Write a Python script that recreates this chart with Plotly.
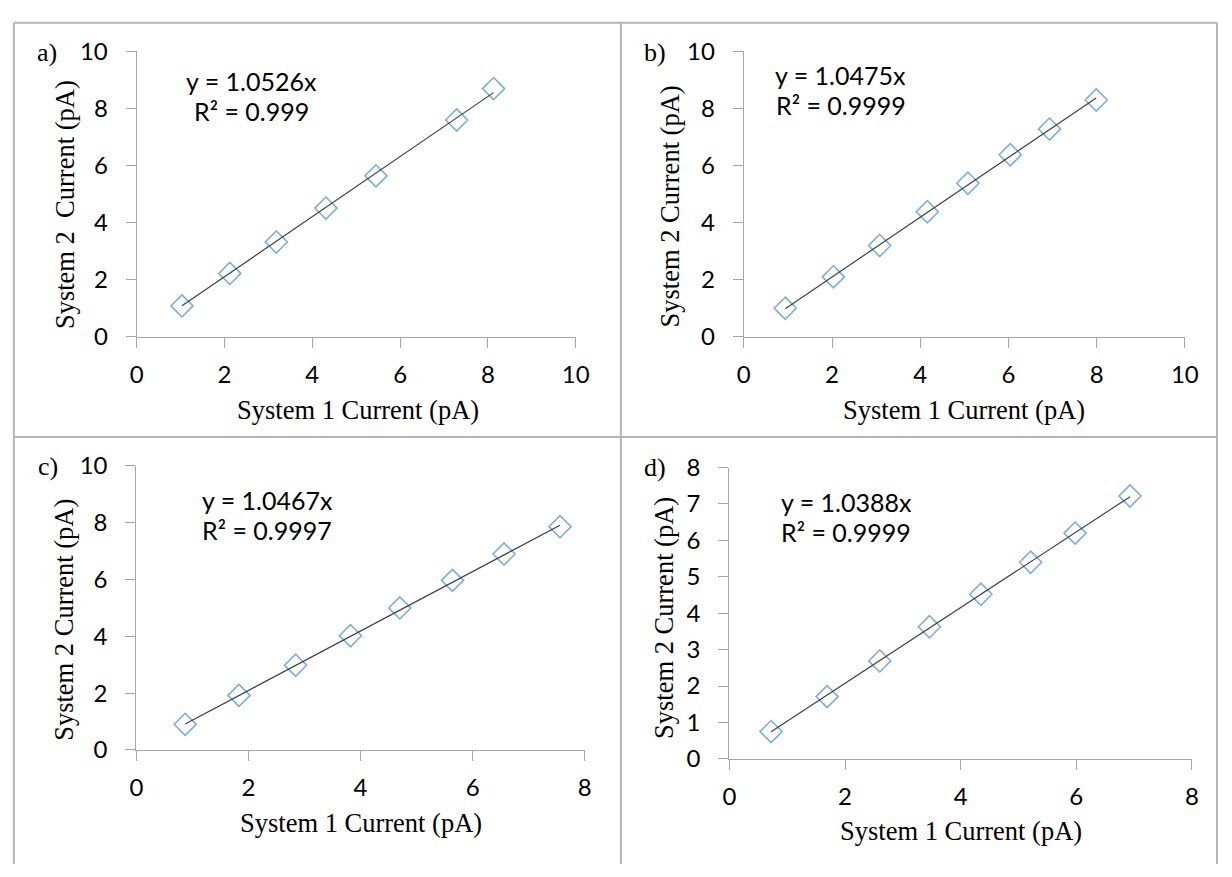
import plotly.graph_objects as go

W, H = 1232, 877

# ---------------- data ----------------
panel_labels = ["a)", "b)", "c)", "d)"]

x_a = [1.03, 2.12, 3.18, 4.31, 5.45, 7.29, 8.13]
y_a = [1.08, 2.22, 3.32, 4.51, 5.64, 7.60, 8.70]

x_b = [0.94, 2.03, 3.08, 4.16, 5.08, 6.04, 6.93, 7.99]
y_b = [1.00, 2.10, 3.20, 4.38, 5.38, 6.38, 7.28, 8.30]

x_c = [0.87, 1.83, 2.84, 3.82, 4.70, 5.64, 6.56, 7.56]
y_c = [0.90, 1.92, 2.98, 4.02, 5.00, 5.97, 6.90, 7.86]

x_d = [0.72, 1.69, 2.60, 3.46, 4.35, 5.21, 5.98, 6.93]
y_d = [0.75, 1.71, 2.69, 3.63, 4.52, 5.40, 6.20, 7.22]

slopes = [1.0526, 1.0475, 1.0467, 1.0388]
r2_text = ["0.999", "0.9999", "0.9997", "0.9999"]

x_ranges = [[0, 10], [0, 10], [0, 8], [0, 8]]
y_ranges = [[0, 10], [0, 10], [0, 10], [0, 8]]
x_dticks = [2, 2, 2, 2]
y_dticks = [2, 2, 2, 1]

x_title = "System 1 Current (pA)"
y_titles = ["System 2  Current (pA)", "System 2 Current (pA)",
            "System 2 Current (pA)", "System 2 Current (pA)"]

xs = [x_a, x_b, x_c, x_d]
ys = [y_a, y_b, y_c, y_d]

# ---------------- layout geometry (pixels) ----------------
# plot areas: (left, right, top, bottom)
areas = [
    (132.0, 578.5, 36.7, 331.7),
    (749.6, 1198.3, 36.7, 331.7),
    (131.7, 587.7, 465.3, 759.0),
    (735.0, 1205.4, 467.0, 768.3),
]
label_pos = [(41, 38), (659, 38), (42, 466), (659, 467)]
eq_pos = [(249, 67, 98), (848, 61, 92), (265, 501, 532), (854, 503, 534)]
xt_pos = [(357, 407), (974, 407), (360, 835), (971, 843)]
yt_pos = [(58.5, 195), (674.5, 197), (58.5, 625), (669, 623)]


def px(x):
    return x / W


def py(y):
    return 1 - y / H


fig = go.Figure()

MARKER_COLOR = "#7aaee0"
AXIS_COLOR = "#a6a6a6"
SANS = "Lato, Open Sans, sans-serif"
TICK_FONT = dict(family=SANS, size=24, color="#000000")
SERIF = "Liberation Serif, Times New Roman, serif"

annotations = []
for i in range(4):
    n = "" if i == 0 else str(i + 1)
    xa, ya = "x" + n, "y" + n
    # data points
    fig.add_trace(go.Scatter(
        x=xs[i], y=ys[i], mode="markers", xaxis=xa, yaxis=ya,
        marker=dict(symbol="diamond-open", size=17, color=MARKER_COLOR,
                    line=dict(width=1.6, color=MARKER_COLOR)),
        showlegend=False, cliponaxis=False))
    # linear trendline through origin
    x0, x1 = min(xs[i]), max(xs[i])
    fig.add_trace(go.Scatter(
        x=[x0, x1], y=[slopes[i] * x0, slopes[i] * x1], mode="lines",
        xaxis=xa, yaxis=ya, line=dict(color="#404040", width=1.2),
        showlegend=False, cliponaxis=False))

    l, r, t, b = areas[i]
    axis_common = dict(showline=True, linecolor=AXIS_COLOR, linewidth=1.3,
                       ticks="outside", ticklen=10, tickcolor=AXIS_COLOR,
                       tickwidth=1.3, showgrid=False, zeroline=False,
                       tickfont=TICK_FONT, fixedrange=True)
    fig.update_layout(**{
        "xaxis" + n: dict(domain=[px(l), px(r)], range=x_ranges[i],
                          dtick=x_dticks[i], tick0=0, anchor=ya,
                          ticklabelstandoff=6, **axis_common),
        "yaxis" + n: dict(domain=[py(b), py(t)], range=y_ranges[i],
                          dtick=y_dticks[i], tick0=0, anchor=xa,
                          ticklabelstandoff=13, **axis_common),
    })

    # panel label
    lx, ly = label_pos[i]
    annotations.append(dict(text=panel_labels[i], x=px(lx), y=py(ly),
                            xref="paper", yref="paper", showarrow=False,
                            font=dict(family=SERIF, size=26, color="#000"),
                            xanchor="center", yanchor="middle"))
    # equation
    ex, ey1, ey2 = eq_pos[i]
    annotations.append(dict(text="y = %.4fx" % slopes[i], x=px(ex), y=py(ey1),
                            xref="paper", yref="paper", showarrow=False,
                            font=dict(family=SANS, size=25, color="#000"),
                            xanchor="center", yanchor="middle"))
    annotations.append(dict(text="R² = " + r2_text[i], x=px(ex), y=py(ey2),
                            xref="paper", yref="paper", showarrow=False,
                            font=dict(family=SANS, size=25, color="#000"),
                            xanchor="center", yanchor="middle"))
    # axis titles
    tx, ty = xt_pos[i]
    annotations.append(dict(text=x_title, x=px(tx), y=py(ty),
                            xref="paper", yref="paper", showarrow=False,
                            font=dict(family=SERIF, size=26.5, color="#000"),
                            xanchor="center", yanchor="middle"))
    vx, vy = yt_pos[i]
    annotations.append(dict(text=y_titles[i], x=px(vx), y=py(vy),
                            xref="paper", yref="paper", showarrow=False,
                            textangle=-90,
                            font=dict(family=SERIF, size=26.5, color="#000"),
                            xanchor="center", yanchor="middle"))

BORDER = "#b4b4b4"
shapes = []
for (x0, y0, x1, y1) in [(7, 7, 1231, 7), (7, 7, 7, 877), (1231, 7, 1231, 877),
                         (624.5, 7, 624.5, 877), (7, 435.3, 1231, 435.3)]:
    shapes.append(dict(type="line", xref="paper", yref="paper",
                       x0=px(x0), y0=py(y0), x1=px(x1), y1=py(y1),
                       line=dict(color=BORDER, width=2)))

fig.update_layout(
    width=W, height=H, margin=dict(l=0, r=0, t=0, b=0),
    paper_bgcolor="white", plot_bgcolor="white",
    annotations=annotations, shapes=shapes, showlegend=False,
)

fig.write_html("out.html", config={"displayModeBar": False})
